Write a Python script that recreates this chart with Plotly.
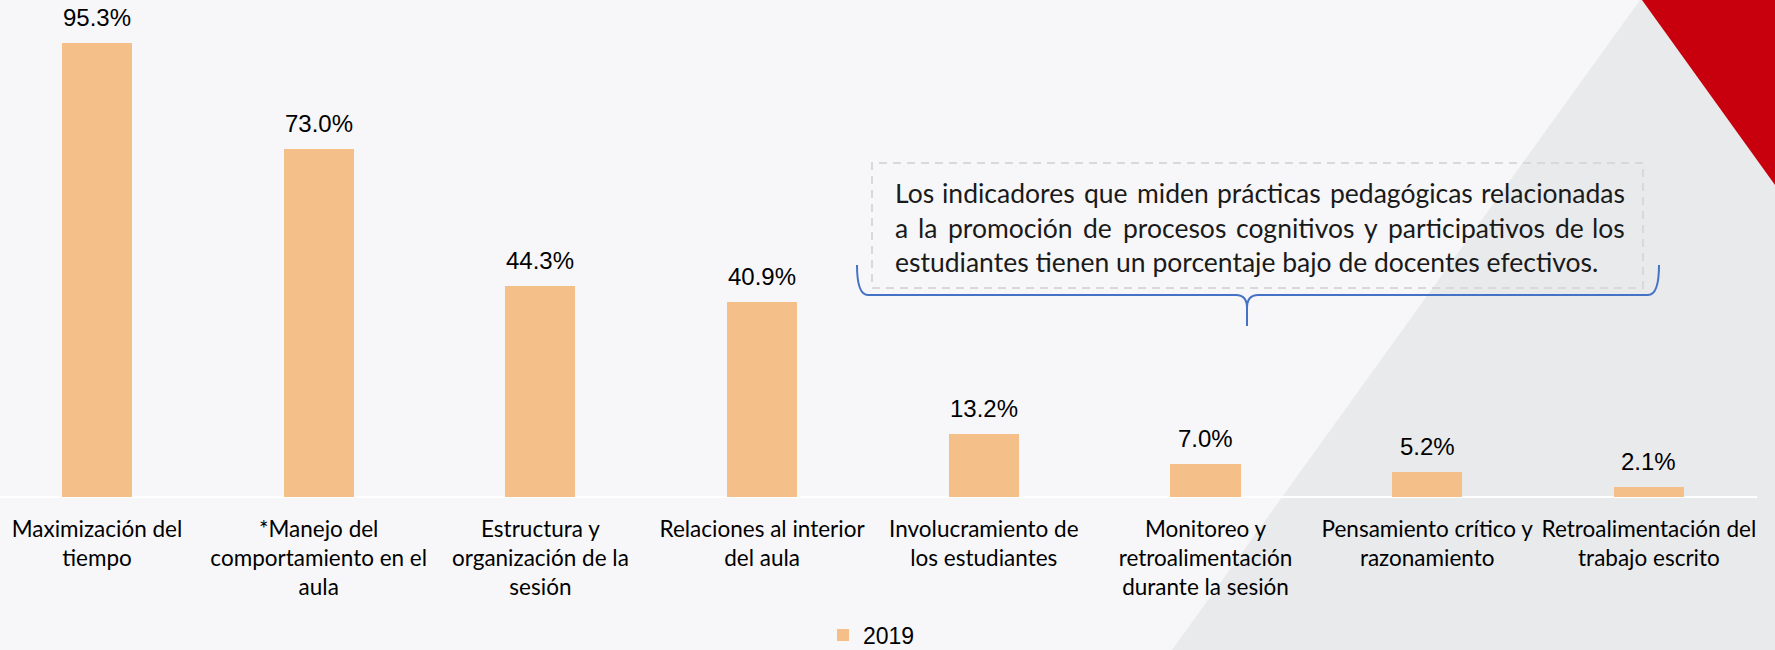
import plotly.graph_objects as go

# ---------------- data ----------------
categories = [
    "Maximización del tiempo",
    "*Manejo del comportamiento en el aula",
    "Estructura y organización de la sesión",
    "Relaciones al interior del aula",
    "Involucramiento de los estudiantes",
    "Monitoreo y retroalimentación durante la sesión",
    "Pensamiento crítico y razonamiento",
    "Retroalimentación del trabajo escrito",
]
tick_labels = [
    "Maximización del<br>tiempo",
    "*Manejo del<br>comportamiento en el<br>aula",
    "Estructura y<br>organización de la<br>sesión",
    "Relaciones al interior<br>del aula",
    "Involucramiento de<br>los estudiantes",
    "Monitoreo y<br>retroalimentación<br>durante la sesión",
    "Pensamiento crítico y<br>razonamiento",
    "Retroalimentación del<br>trabajo escrito",
]
values_2019 = [95.3, 73.0, 44.3, 40.9, 13.2, 7.0, 5.2, 2.1]
series_name = "2019"
note_lines = [
    "Los indicadores que miden prácticas pedagógicas relacionadas",
    "a la promoción de procesos cognitivos y participativos de los",
    "estudiantes tienen un porcentaje bajo de docentes efectivos.",
]

# ---------------- style ----------------
W, H = 1775, 650
BG = "#F7F7F9"
GRAY = "#E9EAEC"
RED = "#C8000E"
BAR = "#F4BF89"
BLUE = "#4472C4"
LABEL_FONT = "Lato"
NUM_FONT = "Liberation Sans, Arial"


def px(x, y):
    return x / W, 1 - y / H


def path(points, close=True):
    s = ""
    for i, (x, y) in enumerate(points):
        a, b = px(x, y)
        s += ("M" if i == 0 else "L") + f"{a:.5f},{b:.5f} "
    return s + ("Z" if close else "")


fig = go.Figure()
fig.add_trace(go.Bar(
    x=categories, y=values_2019, name=series_name,
    marker=dict(color=BAR, line=dict(width=0)),
    width=0.316, showlegend=True, hoverinfo="skip",
))

# data labels
annotations = []
for c, v in zip(categories, values_2019):
    annotations.append(dict(
        x=c, y=v, xref="x", yref="y", text=f"{v:.1f}%", showarrow=False,
        yanchor="bottom", yshift=10,
        font=dict(family=NUM_FONT, size=24, color="#000000"),
    ))

# note text, justified lines
char_w = {'a': .51, 'b': .56, 'c': .45, 'd': .56, 'e': .53, 'f': .32, 'g': .50,
          'h': .56, 'i': .24, 'j': .24, 'k': .50, 'l': .24, 'm': .84, 'n': .56,
          'o': .56, 'p': .56, 'q': .56, 'r': .36, 's': .42, 't': .35, 'u': .56,
          'v': .50, 'w': .76, 'x': .49, 'y': .50, 'z': .45, 'á': .51, 'ó': .56,
          'í': .24, '.': .22, 'L': .50}
NOTE_FS = 26.5
left_px, right_px = 893, 1627
baselines = [202, 237, 271]
for li, line in enumerate(note_lines):
    yc = baselines[li] - 0.33 * NOTE_FS
    if li < len(note_lines) - 1:
        words = line.split(" ")
        widths = [sum(char_w.get(ch, .5) for ch in w_) * NOTE_FS * 1.01 for w_ in words]
        gap = (right_px - left_px - sum(widths)) / (len(words) - 1)
        xpos = left_px
        for wi, (w_, ww) in enumerate(zip(words, widths)):
            first = wi == 0
            last = wi == len(words) - 1
            if first:
                xx, anc = xpos, "left"
            elif last:
                xx, anc = right_px, "right"
            else:
                xx, anc = xpos + ww / 2, "center"
            xa, ya = px(xx, yc)
            annotations.append(dict(
                x=xa, y=ya, xref="paper", yref="paper", text=w_, showarrow=False,
                xanchor=anc, yanchor="middle",
                font=dict(family=LABEL_FONT, size=NOTE_FS, color="#1A1A1A"),
            ))
            xpos += ww + gap
    else:
        xa, ya = px(left_px, yc)
        annotations.append(dict(
            x=xa, y=ya, xref="paper", yref="paper", text=line, showarrow=False,
            xanchor="left", yanchor="middle",
            font=dict(family=LABEL_FONT, size=NOTE_FS, color="#1A1A1A"),
        ))

shapes = [
    # gray diagonal panel
    dict(type="path", xref="paper", yref="paper", layer="below",
         path=path([(1640, 0), (W, 0), (W, H), (1172, H)]),
         fillcolor=GRAY, line=dict(width=0)),
    # red corner
    dict(type="path", xref="paper", yref="paper", layer="below",
         path=path([(1642, 0), (W, 0), (W, 185)]),
         fillcolor=RED, line=dict(width=0)),
    # baseline
    dict(type="line", xref="paper", yref="paper", layer="below",
         x0=0, x1=1757 / W, y0=1 - 497 / H, y1=1 - 497 / H,
         line=dict(color="#FFFFFF", width=2)),
    # dashed note box
    dict(type="rect", xref="paper", yref="paper",
         x0=872 / W, x1=1643 / W, y0=1 - 288 / H, y1=1 - 163 / H,
         line=dict(color="#D9D9D9", width=2, dash="8px,6px"),
         fillcolor="rgba(0,0,0,0)"),
]

# curly brace
def bp(x, y):
    a, b = px(x, y)
    return f"{a:.5f},{b:.5f}"

brace = (f"M{bp(857,265)} Q{bp(857,295)} {bp(868,295)} L{bp(1236,295)} "
         f"Q{bp(1247,295)} {bp(1247,308)} L{bp(1247,326)} M{bp(1247,308)} "
         f"Q{bp(1247,295)} {bp(1258,295)} L{bp(1648,295)} Q{bp(1659,295)} {bp(1659,265)}")
shapes.append(dict(type="path", xref="paper", yref="paper", path=brace,
                   line=dict(color=BLUE, width=2)))

spacing = 221.7
xmin = -97 / spacing
xmax = xmin + W / spacing

fig.update_layout(
    width=W, height=H,
    margin=dict(l=0, r=0, t=0, b=0, autoexpand=False),
    paper_bgcolor=BG, plot_bgcolor="rgba(0,0,0,0)",
    font=dict(family=LABEL_FONT, color="#000000"),
    bargap=0,
    xaxis=dict(range=[xmin, xmax], tickvals=categories, ticktext=tick_labels,
               showgrid=False, zeroline=False, showline=False, ticks="",
               tickfont=dict(family=LABEL_FONT, size=22.5, color="#000000"),
               ticklabelstandoff=16, fixedrange=True, automargin=False),
    yaxis=dict(range=[0, 497 / (454 / 95.3)], domain=[1 - 497 / H, 1],
               visible=False, fixedrange=True),
    legend=dict(orientation="h", x=823 / W, y=1 - 635 / H, xanchor="left",
                yanchor="middle", bgcolor="rgba(0,0,0,0)",
                font=dict(family=NUM_FONT, size=23, color="#000000"),
                itemwidth=30),
    annotations=annotations,
    shapes=shapes,
)

fig.write_html(
    "out.html",
    config={"displayModeBar": False},
    post_script="document.body.style.margin='0';document.body.style.overflow='hidden';",
)
